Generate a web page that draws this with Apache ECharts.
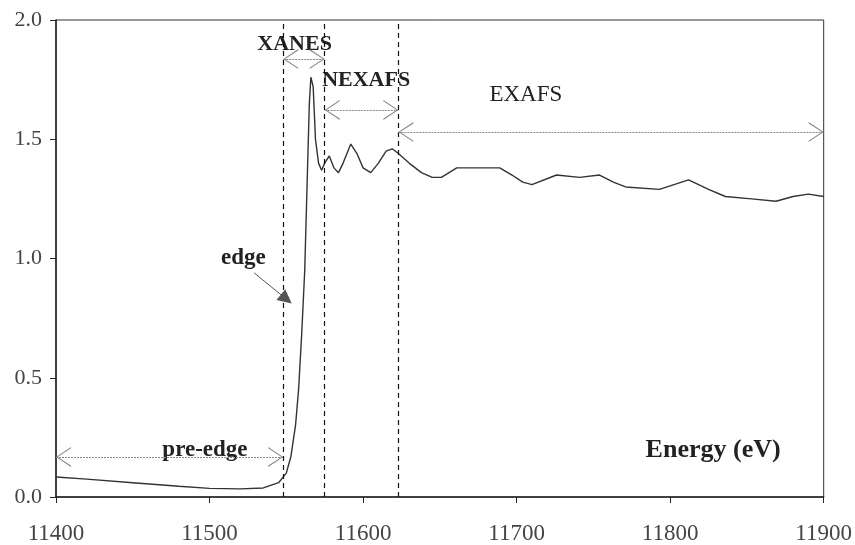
<!DOCTYPE html>
<html><head><meta charset="utf-8">
<script src="https://cdn.jsdelivr.net/npm/echarts@6/dist/echarts.min.js"></script>
<style>html,body{margin:0;padding:0;background:#fff}#c{width:855px;height:545px}</style>
</head><body><div id="c"></div>
<script>
// Data
const energy = [11400,11420,11450,11480,11500,11520,11535,11545,11550,11553,11556,11558,11560,11562,11563.5,11565,11566,11567.5,11569,11571,11573,11575,11578,11581,11584,11587,11592,11596,11600,11605,11610,11615,11619,11623,11630,11638,11645,11651,11661,11674,11689,11697,11704,11710,11726,11741,11754,11763,11771,11793,11812,11825,11836,11853,11869,11880,11890,11900];
const absorption = [0.084,0.075,0.060,0.045,0.036,0.034,0.038,0.060,0.100,0.170,0.300,0.450,0.680,0.950,1.300,1.650,1.760,1.720,1.500,1.400,1.370,1.400,1.430,1.380,1.360,1.400,1.480,1.440,1.380,1.360,1.400,1.450,1.460,1.440,1.400,1.360,1.340,1.340,1.380,1.380,1.380,1.350,1.320,1.310,1.350,1.340,1.350,1.320,1.300,1.290,1.330,1.290,1.260,1.250,1.240,1.260,1.270,1.260];
const xTicks = [11400,11500,11600,11700,11800,11900];
const yTicks = [0.0,0.5,1.0,1.5,2.0];
// region boundaries (eV)
const boundaries = [11548,11575,11623];
// region names and ranges
const regionNames = ['pre-edge','XANES','NEXAFS','EXAFS'];
const regionFrom = [11400,11548,11575,11623];
const regionTo = [11548,11575,11623,11900];
const regionArrowY = [0.168,1.836,1.623,1.53];
const labelX = [11497,11555.4,11602,11706];
const labelY = [0.197,1.90,1.748,1.686];
const edgeLabel = 'edge';
const edgeFrom = [11529,0.94];
const edgeTo = [11550,0.83];
const edgeLabelPos = [11522,1.002];
const axisTitle = 'Energy (eV)';
const axisTitlePos = [11828,0.197];

const chev = 'path://M10,-20 L10.05,-20 L10,-19.95 Z M0,20 L10,0 L20,20 L18.6,20 L10,2.4 L1.4,20 Z';
const serif = '"Liberation Serif","DejaVu Serif",serif';

const arrowData = regionNames.map((n,i)=>[
  {coord:[regionFrom[i], regionArrowY[i]]},
  {coord:[regionTo[i], regionArrowY[i]]}
]);

const labelSizes = [23,22,22,23];
const labelWeights = ['bold','bold','bold','normal'];
const textData = regionNames.map((n,i)=>({
  value:[labelX[i],labelY[i]],
  label:{formatter:n, fontSize:labelSizes[i], fontWeight:labelWeights[i]}
}));
textData.push({value:edgeLabelPos,label:{formatter:edgeLabel,fontSize:23,fontWeight:'bold'}});
textData.push({value:axisTitlePos,label:{formatter:axisTitle,fontSize:26,fontWeight:'bold'}});

const chart = echarts.init(document.getElementById('c'),null,{renderer:'canvas'});
chart.setOption({
  animation:false,
  backgroundColor:'#fff',
  grid:{left:56,right:30,top:20,bottom:48,show:true,borderColor:'#333',borderWidth:1},
  xAxis:{type:'value',min:11400,max:11900,interval:100,
    axisLine:{show:true,onZero:false,lineStyle:{color:'#222',width:1.5}},
    axisTick:{show:true,length:6,lineStyle:{color:'#222'}},
    axisLabel:{color:'#444',fontFamily:serif,fontSize:23,margin:25,
      customValues:xTicks, formatter:v=>String(v)},
    splitLine:{show:false}},
  yAxis:{type:'value',min:0,max:2,interval:0.5,
    axisLine:{show:true,lineStyle:{color:'#222',width:1.5}},
    axisTick:{show:true,length:6,lineStyle:{color:'#222'}},
    axisLabel:{color:'#444',fontFamily:serif,fontSize:22,margin:14,formatter:v=>v.toFixed(1)},
    splitLine:{show:false}},
  series:[
    {type:'line',data:energy.map((e,i)=>[e,absorption[i]]),symbol:'none',
     lineStyle:{color:'#333',width:1.4},
     markLine:{silent:true,symbol:'none',label:{show:false},
       lineStyle:{color:'#111',type:[5,4],width:1.2},
       data:boundaries.map(b=>({xAxis:b}))}},
    {type:'line',data:[],
     markLine:{silent:true,symbol:[chev,chev],symbolSize:[20,30],label:{show:false},
       lineStyle:{color:'#888',type:[2,1],width:1},
       itemStyle:{color:'#777'},
       data:arrowData}},
    {type:'line',data:[],
     markLine:{silent:true,symbol:['none','triangle'],symbolSize:14,label:{show:false},
       lineStyle:{color:'#555',type:'solid',width:1},
       itemStyle:{color:'#444'},
       data:[[{coord:edgeFrom},{coord:edgeTo}]]}},
    {type:'scatter',symbolSize:0,data:textData,silent:true,
     itemStyle:{opacity:1},
     label:{show:true,position:'inside',color:'#222',fontFamily:serif}}
  ]
});
</script></body></html>
